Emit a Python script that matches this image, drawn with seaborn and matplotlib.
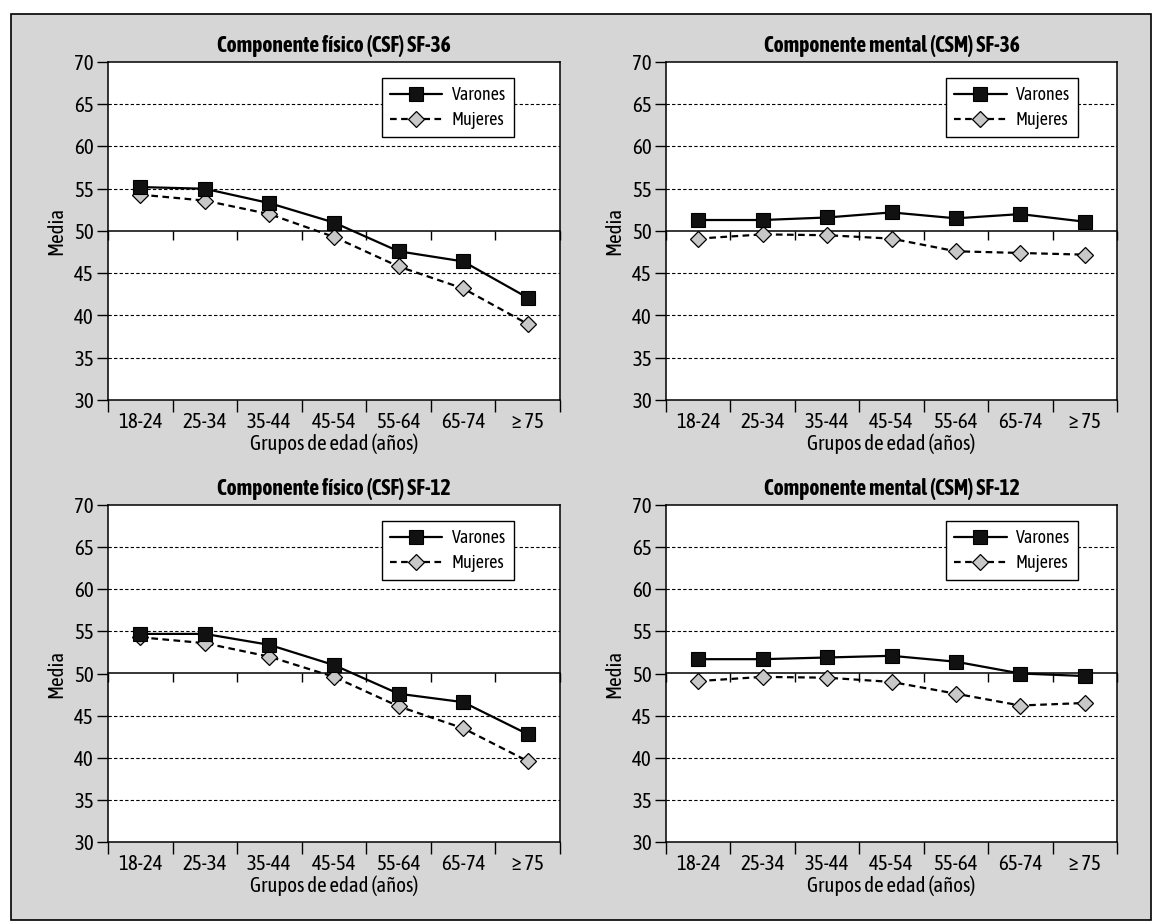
import numpy as np
import pandas as pd
import matplotlib
matplotlib.use('Agg')
import matplotlib.pyplot as plt
from matplotlib import font_manager
from matplotlib.patches import Rectangle
import seaborn as sns

grupos = ['18-24', '25-34', '35-44', '45-54', '55-64', '65-74', '≥ 75']

csf36_varones = [55.2, 55.0, 53.3, 51.0, 47.6, 46.4, 42.1]
csf36_mujeres = [54.3, 53.6, 52.0, 49.3, 45.8, 43.2, 39.0]
csm36_varones = [51.3, 51.3, 51.6, 52.2, 51.5, 52.0, 51.1]
csm36_mujeres = [49.1, 49.6, 49.5, 49.1, 47.6, 47.4, 47.2]
csf12_varones = [54.7, 54.7, 53.4, 51.0, 47.6, 46.6, 42.8]
csf12_mujeres = [54.3, 53.6, 52.0, 49.6, 46.1, 43.5, 39.6]
csm12_varones = [51.7, 51.7, 51.9, 52.1, 51.4, 50.0, 49.7]
csm12_mujeres = [49.1, 49.6, 49.5, 49.0, 47.6, 46.2, 46.5]

titulos = ['Componente físico (CSF) SF-36', 'Componente mental (CSM) SF-36',
           'Componente físico (CSF) SF-12', 'Componente mental (CSM) SF-12']
series = [(csf36_varones, csf36_mujeres), (csm36_varones, csm36_mujeres),
          (csf12_varones, csf12_mujeres), (csm12_varones, csm12_mujeres)]

sns.set_theme(style='white')

# busca una fuente estrecha con negrita
fuentes = font_manager.fontManager.ttflist
pesos = {}
for f in fuentes:
    if ('Narrow' in f.name or 'Condensed' in f.name) and f.style == 'normal':
        w = f.weight if isinstance(f.weight, int) else font_manager.weight_dict.get(f.weight, 400)
        pesos.setdefault(f.name, set()).add(w)
familia = 'Liberation Sans'
familia_tit = 'Liberation Sans'
normales = [n for n, ws in pesos.items() if 400 in ws]
con_negrita = [n for n in normales if any(w >= 600 for w in pesos[n])]
if normales:
    familia = normales[0]
if con_negrita:
    familia = con_negrita[0]
    familia_tit = familia
else:
    negritas = [n for n, ws in pesos.items() if any(w >= 600 for w in ws)]
    if negritas:
        familia_tit = negritas[0]

plt.rcParams['font.family'] = [familia, 'DejaVu Sans']
plt.rcParams['text.color'] = 'black'
plt.rcParams['axes.labelcolor'] = 'black'
plt.rcParams['xtick.color'] = 'black'
plt.rcParams['ytick.color'] = 'black'

W, H = 1176, 924
fig = plt.figure(figsize=(W / 100, H / 100), dpi=100)
fig.patch.set_facecolor('white')
fondo = Rectangle((11 / W, 4 / H), 1140 / W, 906 / H, transform=fig.transFigure,
                  facecolor='#d6d6d6', edgecolor='black', linewidth=1.2, zorder=-10)
fig.add_artist(fondo)

# cajas de los ejes en pixeles: izquierda, derecha, arriba, abajo
boxes = [(108, 560, 62, 400), (666, 1117, 62, 400),
         (108, 560, 505, 842), (666, 1117, 505, 842)]
legend_x = [0.898, 0.9135, 0.898, 0.9135]

x = np.arange(len(grupos))
fs = 15

for i, (titulo, (var, muj)) in enumerate(zip(titulos, series)):
    l, r, t, b = boxes[i]
    ax = fig.add_axes([l / W, (H - b) / H, (r - l) / W, (b - t) / H])
    ax.set_facecolor('white')
    df = pd.DataFrame({'pos': x, 'Varones': var, 'Mujeres': muj})

    sns.lineplot(data=df, x='pos', y='Varones', ax=ax, color='black', linewidth=1.6,
                 marker='s', markersize=10, markerfacecolor='#111111',
                 markeredgecolor='black', markeredgewidth=0.8, label='Varones', zorder=5)
    sns.lineplot(data=df, x='pos', y='Mujeres', ax=ax, color='black', linewidth=1.6,
                 linestyle=(0, (3, 2)), marker='D', markersize=8.5,
                 markerfacecolor='#c8c8c8', markeredgecolor='black', markeredgewidth=0.9,
                 label='Mujeres', zorder=4)

    ax.set_xlim(-0.5, len(grupos) - 0.5)
    ax.set_ylim(30, 70)
    ax.set_yticks(np.arange(30, 71, 5))
    ax.set_xticks(x)
    ax.set_xticklabels(grupos, fontsize=fs)
    ax.set_xticks(np.arange(-0.5, len(grupos), 1), minor=True)
    ax.tick_params(axis='x', which='major', length=0, pad=9)
    ax.tick_params(axis='x', which='minor', length=8.5, width=1, direction='out', bottom=True)
    ax.tick_params(axis='y', length=8, width=1, direction='out', left=True, labelsize=fs, pad=2)

    for yv in [35, 40, 45, 55, 60, 65]:
        ax.axhline(yv, color='black', linewidth=0.8, linestyle=(0, (3, 2)), zorder=1)

    for s in ax.spines.values():
        s.set_visible(True)
        s.set_color('black')
        s.set_linewidth(1.1)

    # eje horizontal que cruza en 50
    sec = ax.secondary_xaxis(0.5)
    sec.set_xticks(np.arange(-0.5, len(grupos), 1))
    sec.tick_params(axis='x', direction='in', length=6.5, width=1, labeltop=False,
                    labelbottom=False, color='black')
    for s in sec.spines.values():
        s.set_color('black')
        s.set_linewidth(1.1)

    ax.set_xlabel('Grupos de edad (años)', fontsize=fs, labelpad=1)
    ax.set_ylabel('Media', fontsize=fs, labelpad=6)
    ax.set_title(titulo, fontsize=15.5, fontweight='bold', pad=7,
                 family=[familia_tit, 'DejaVu Sans'])

    leg = ax.legend(loc='upper right', bbox_to_anchor=(legend_x[i], 0.953), borderaxespad=0,
                    fontsize=13, frameon=True, fancybox=False, handlelength=2.9,
                    handletextpad=0.5, labelspacing=0.4, borderpad=0.45)
    leg.get_frame().set_edgecolor('black')
    leg.get_frame().set_linewidth(1.0)
    leg.get_frame().set_alpha(1)

fig.savefig('out.png', dpi=100)
